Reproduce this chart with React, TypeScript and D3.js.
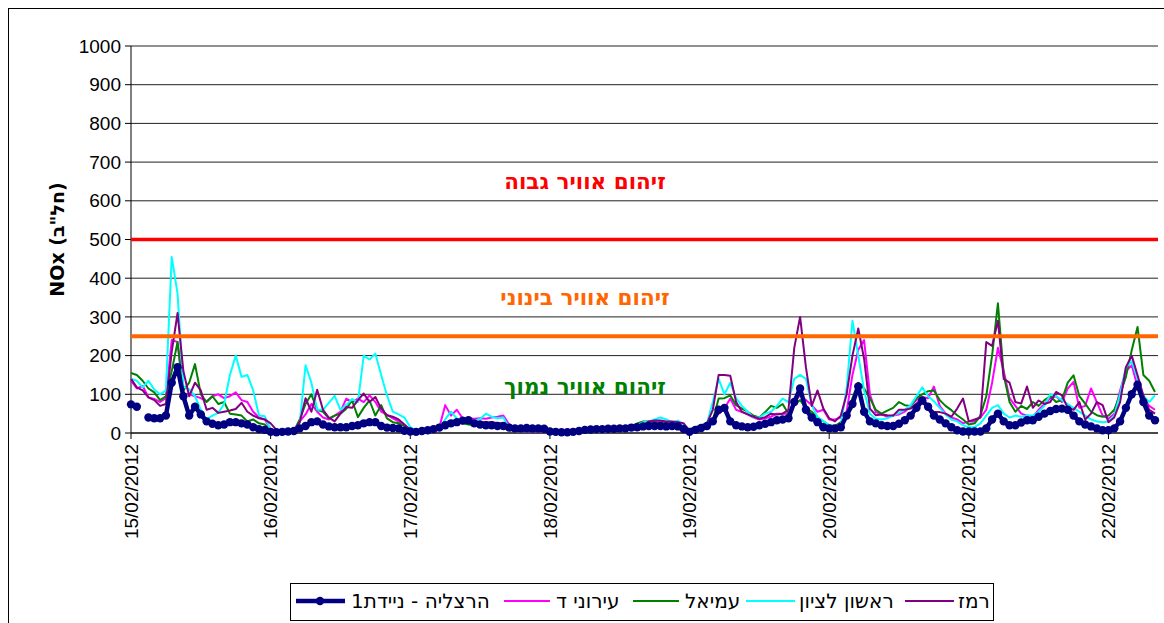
import React from "react";
import * as d3 from "d3";

const dayLabels = ["15/02/2012", "16/02/2012", "17/02/2012", "18/02/2012", "19/02/2012", "20/02/2012", "21/02/2012", "22/02/2012"];
const yTicks = [0, 100, 200, 300, 400, 500, 600, 700, 800, 900, 1000];

// hourly values, starting 15/02/2012 00:00
const herzliya: (number | null)[] = [
  74, 68, null, 40, 38, 38, 45, 130, 170, 95, 45, 68, 48, 30, 24, 20, 22, 28, 28, 25, 22, 15, 10, 8,
  3, 2, 3, 4, 5, 12, 18, 28, 30, 22, 17, 15, 15, 15, 18, 20, 25, 28, 28, 18, 14, 13, 12, 6,
  4, 3, 5, 7, 10, 14, 20, 25, 28, 32, 33, 25, 22, 20, 20, 18, 18, 14, 12, 12, 13, 12, 12, 11,
  4, 3, 2, 2, 3, 5, 8, 9, 10, 10, 11, 11, 12, 12, 14, 15, 17, 18, 18, 18, 17, 18, 17, 10,
  3, 8, 13, 18, 30, 60, 65, 30, 20, 17, 15, 16, 20, 24, 28, 33, 35, 38, 80, 115, 60, 40, 28, 15,
  12, 12, 15, 45, 75, 120, 55, 30, 25, 20, 18, 18, 24, 33, 45, 65, 84, 68, 45, 35, 25, 15, 7, 4,
  4, 4, 4, 12, 35, 50, 30, 20, 20, 27, 33, 33, 42, 50, 57, 62, 63, 60, 45, 30, 22, 17, 12, 7,
  7, 12, 30, 65, 100, 125, 80, 45, 33,
];
const ironiD: number[] = [
  135, 115, 122, 92, 88, 80, 90, 240, 235, 100, 100, 95, 90, 82, 95, 100, 90, 95, 105, 85, 80, 55, 40, 35,
  10, 5, 3, 3, 5, 30, 48, 75, 55, 40, 35, 45, 55, 89, 80, 89, 80, 97, 80, 55, 47, 38, 30, 20,
  10, 5, 3, 4, 6, 15, 72, 45, 60, 38, 37, 37, 38, 37, 40, 42, 45, 22, 8, 5, 4, 3, 3, 3,
  3, 3, 3, 2, 2, 2, 3, 3, 4, 4, 5, 6, 7, 8, 10, 18, 25, 30, 28, 30, 28, 25, 22, 20,
  4, 8, 12, 20, 35, 50, 63, 89, 60, 54, 48, 40, 35, 38, 42, 50, 50, 50, 80, 97, 85, 72, 55, 60,
  35, 35, 40, 55, 150, 215, 240, 100, 54, 48, 42, 45, 48, 55, 70, 85, 93, 90, 120, 70, 50, 40, 35, 25,
  30, 30, 40, 60, 130, 220, 160, 90, 70, 50, 45, 42, 60, 75, 90, 95, 80, 115, 132, 65, 70, 115, 80, 45,
  37, 50, 110, 160, 175, 120, 90, 70, 60,
];
const amiel: number[] = [
  155, 150, 135, 115, 105, 85, 95, 160, 235, 110, 130, 178, 100, 80, 95, 75, 80, 50, 48, 45, 30, 35, 25, 22,
  5, 3, 3, 4, 5, 35, 75, 100, 60, 55, 38, 45, 50, 63, 84, 41, 65, 84, 45, 72, 38, 28, 25, 18,
  8, 4, 3, 3, 5, 10, 20, 25, 28, 25, 22, 20, 20, 18, 18, 15, 14, 8, 5, 4, 3, 3, 3, 3,
  3, 3, 3, 3, 3, 3, 4, 4, 5, 6, 8, 10, 12, 15, 18, 25, 30, 30, 28, 25, 25, 22, 20, 15,
  10, 15, 20, 25, 33, 89, 90, 97, 72, 63, 55, 45, 40, 54, 70, 65, 75, 50, 75, 85, 65, 55, 40, 30,
  20, 18, 28, 45, 90, 130, 115, 90, 60, 50, 58, 65, 80, 72, 70, 90, 100, 108, 110, 85, 70, 59, 46, 35,
  22, 25, 45, 95, 200, 335, 150, 80, 55, 70, 62, 80, 70, 85, 95, 80, 85, 130, 149, 95, 76, 55, 46, 42,
  45, 60, 100, 145, 214, 274, 150, 135, 106,
];
const rishon: number[] = [
  140, 135, 118, 135, 112, 100, 110, 455, 360, 120, 113, 95, 60, 35, 45, 52, 75, 150, 200, 145, 150, 110, 45, 43,
  8, 5, 3, 3, 5, 25, 175, 130, 60, 60, 78, 96, 60, 72, 88, 80, 200, 190, 205, 150, 97, 55, 48, 40,
  15, 5, 3, 3, 5, 10, 35, 55, 38, 30, 30, 32, 36, 50, 42, 38, 40, 12, 5, 4, 3, 3, 3, 3,
  3, 3, 3, 2, 2, 2, 3, 3, 4, 4, 5, 5, 6, 6, 12, 20, 28, 30, 35, 40, 35, 28, 32, 20,
  3, 8, 15, 25, 80, 140, 100, 130, 90, 70, 55, 40, 40, 50, 55, 70, 89, 80, 140, 150, 140, 72, 41, 30,
  20, 18, 20, 115, 290, 200, 110, 50, 37, 35, 38, 45, 52, 60, 72, 95, 118, 95, 82, 65, 48, 35, 30, 20,
  15, 15, 25, 45, 65, 72, 50, 40, 45, 42, 45, 45, 55, 70, 100, 95, 85, 75, 65, 55, 45, 35, 30, 28,
  30, 45, 100, 170, 185, 140, 97, 80, 97,
];
const remez: number[] = [
  140, 118, 110, 92, 85, 70, 75, 210, 310, 160, 95, 130, 110, 60, 65, 52, 55, 58, 62, 78, 55, 45, 38, 35,
  25, 8, 4, 3, 5, 28, 90, 55, 112, 60, 40, 30, 50, 67, 65, 85, 102, 80, 93, 63, 46, 42, 35, 22,
  8, 4, 3, 4, 6, 12, 25, 30, 30, 30, 28, 30, 28, 28, 28, 26, 25, 10, 5, 4, 3, 3, 3, 3,
  3, 3, 3, 2, 2, 2, 3, 3, 4, 4, 5, 6, 7, 8, 10, 15, 20, 30, 32, 32, 30, 30, 28, 25,
  5, 10, 15, 25, 60, 150, 150, 148, 80, 55, 48, 42, 37, 41, 50, 48, 50, 60, 220, 300, 170, 70, 110, 63,
  38, 30, 45, 100, 200, 270, 192, 63, 46, 48, 46, 45, 60, 60, 63, 76, 89, 63, 55, 54, 50, 42, 63, 89,
  30, 35, 40, 235, 225, 290, 140, 130, 80, 76, 120, 65, 84, 75, 80, 106, 97, 65, 60, 80, 35, 50, 80, 72,
  28, 40, 80, 170, 200, 149, 97, 60, 50,
];

const seriesNames = ["הרצליה - ניידת1", "עירוני ד", "עמיאל", "ראשון לציון", "רמז"];
const thresholds = [500, 250];
const zoneLabels = ["זיהום אוויר גבוה", "זיהום אוויר בינוני", "זיהום אוויר נמוך"];
const zoneValues = [650, 350, 120];

const FONT = "Arial, 'Liberation Sans', 'DejaVu Sans', sans-serif";
const HEB = "'DejaVu Sans', Arial, sans-serif";

export default function App() {
  const W = 1164, H = 623;
  const left = 131, right = 1155, top = 46, bottom = 433;
  const N = herzliya.length;
  const x = d3.scaleLinear().domain([0, N - 1]).range([left, right]);
  const y = d3.scaleLinear().domain([0, 1000]).range([bottom, top]);
  const line = d3
    .line<number | null>()
    .defined((d) => d != null)
    .x((_, i) => x(i))
    .y((d) => y(d as number));

  const colored = [
    { data: ironiD, color: "#FF00FF" },
    { data: amiel, color: "#008000" },
    { data: rishon, color: "#00FFFF" },
    { data: remez, color: "#800080" },
  ];
  const colors = ["#000080", "#FF00FF", "#008000", "#00FFFF", "#800080"];
  const thrColors = ["#FF0000", "#FF6600"];
  const thrWidths = [3.5, 4];
  const zoneColors = ["#FF0000", "#FF6600", "#008000"];

  const legendLineX = [296, 504, 633, 746, 905];
  const legendLineW = [49, 46, 46, 49, 49];
  const legendTextX = [351, 556, 685, 799, 958];
  const legendY = 601;

  return (
    <svg width={W} height={H} style={{ position: "absolute", left: 0, top: 0, background: "#fff" }} fontFamily={FONT}>
      <rect x={8.5} y={8.5} width={1170} height={1000} fill="#fff" stroke="#000" strokeWidth={1} />
      {yTicks.map((t) => (
        <line key={"g" + t} x1={left} x2={right + 3} y1={y(t)} y2={y(t)} stroke="#222" strokeWidth={1} />
      ))}
      <line x1={left} x2={left} y1={top} y2={bottom} stroke="#000" strokeWidth={1} />
      {yTicks.map((t) => (
        <g key={"yt" + t}>
          <line x1={left - 6} x2={left} y1={y(t)} y2={y(t)} stroke="#000" />
          <text x={left - 10} y={y(t)} dy="0.35em" textAnchor="end" fontSize={19} fill="#000">
            {t}
          </text>
        </g>
      ))}
      <text
        transform={`translate(57,${(top + bottom) / 2}) rotate(-90)`}
        textAnchor="middle"
        dy="0.35em"
        fontSize={19}
        fontWeight="bold"
        fontFamily={HEB}
      >
        {'NOx (חל"ב)'}
      </text>
      <line x1={left} x2={right + 3} y1={bottom} y2={bottom} stroke="#000" />
      {dayLabels.map((lab, k) => {
        const xx = x(k * 24);
        return (
          <g key={lab}>
            <line x1={xx} x2={xx} y1={bottom} y2={bottom + 6} stroke="#000" />
            <text transform={`translate(${xx},${bottom + 11}) rotate(-90)`} textAnchor="end" dy="0.35em" fontSize={19}>
              {lab}
            </text>
          </g>
        );
      })}
      {colored.map((s, i) => (
        <path key={"s" + i} d={line(s.data) || ""} fill="none" stroke={s.color} strokeWidth={2} strokeLinejoin="round" />
      ))}
      <path d={line(herzliya) || ""} fill="none" stroke="#000080" strokeWidth={4.5} strokeLinejoin="round" />
      {herzliya.map((v, i) =>
        v == null ? null : <circle key={"m" + i} cx={x(i)} cy={y(v)} r={4.2} fill="#000080" />
      )}
      {thresholds.map((t, i) => (
        <line key={"t" + t} x1={left} x2={right + 3} y1={y(t)} y2={y(t)} stroke={thrColors[i]} strokeWidth={thrWidths[i]} />
      ))}
      {zoneLabels.map((lab, i) => (
        <text key={lab} x={585} y={y(zoneValues[i])} dy="0.35em" textAnchor="middle" fontSize={21.5} fontWeight="bold" fill={zoneColors[i]} fontFamily={HEB}>
          {lab}
        </text>
      ))}
      <rect x={290.5} y={583.5} width={703} height={37} fill="#fff" stroke="#000" strokeWidth={1} />
      {seriesNames.map((name, i) => (
        <g key={name}>
          <line
            x1={legendLineX[i]}
            x2={legendLineX[i] + legendLineW[i]}
            y1={legendY}
            y2={legendY}
            stroke={colors[i]}
            strokeWidth={i === 0 ? 4.5 : 2}
          />
          {i === 0 && <circle cx={legendLineX[i] + 24} cy={legendY} r={4.2} fill="#000080" />}
          <text x={legendTextX[i]} y={legendY} dy="0.35em" fontSize={20} fontFamily={HEB}>
            {name}
          </text>
        </g>
      ))}
    </svg>
  );
}
